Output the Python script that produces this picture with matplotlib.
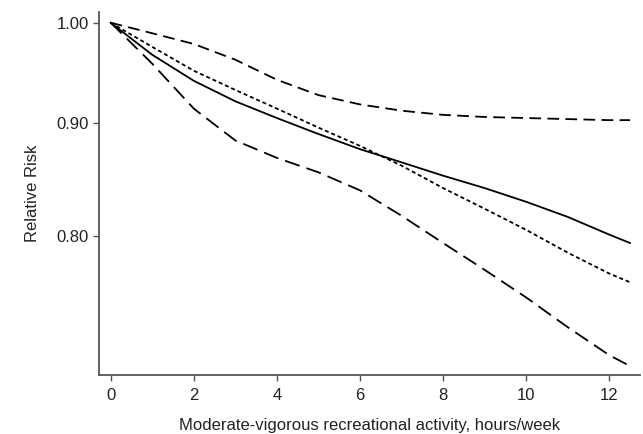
import matplotlib
matplotlib.use("Agg")
import matplotlib.pyplot as plt
from matplotlib.ticker import FixedLocator, NullLocator, FixedFormatter

plt.rcParams['font.family'] = ['Liberation Sans', 'DejaVu Sans']

hours = [0, 1, 2, 3, 4, 5, 6, 7, 8, 9, 10, 11, 12, 12.5]
rr_fit = [1.0, 0.967, 0.941, 0.921, 0.905, 0.890, 0.876, 0.864, 0.852, 0.841, 0.829, 0.816, 0.801, 0.794]
rr_linear = [1.0, 0.975, 0.951, 0.932, 0.914, 0.896, 0.879, 0.861, 0.841, 0.823, 0.805, 0.786, 0.769, 0.762]
rr_upper = [1.0, 0.989, 0.978, 0.962, 0.942, 0.927, 0.918, 0.912, 0.908, 0.906, 0.905, 0.904, 0.903, 0.903]
rr_lower = [1.0, 0.958, 0.914, 0.884, 0.868, 0.855, 0.839, 0.817, 0.794, 0.772, 0.750, 0.727, 0.706, 0.698]

fig = plt.figure(figsize=(6.43, 4.34), dpi=100)
ax = fig.add_axes([0.1544, 0.136, 0.9953 - 0.1544, 0.9724 - 0.136])

ax.plot(hours, rr_fit, color="black", lw=1.3)
ax.plot(hours, rr_linear, color="black", lw=1.3, dashes=(2.2, 1.6))
ax.plot(hours, rr_upper, color="black", lw=1.3, dashes=(6.5, 3.5))
ax.plot(hours, rr_lower, color="black", lw=1.3, dashes=(8.5, 4))

ax.set_yscale("log")
ax.set_xlim(-0.274, 12.74)
ax.set_ylim(0.6915, 1.0113)

ax.yaxis.set_major_locator(FixedLocator([0.8, 0.9, 1.0]))
ax.yaxis.set_major_formatter(FixedFormatter(["0.80", "0.90", "1.00"]))
ax.yaxis.set_minor_locator(NullLocator())
ax.set_xticks([0, 2, 4, 6, 8, 10, 12])

for s in ["top", "right"]:
    ax.spines[s].set_visible(False)
for s in ["left", "bottom"]:
    ax.spines[s].set_color("#555555")
    ax.spines[s].set_linewidth(1.3)
ax.tick_params(colors="#555555", labelcolor="#222222", length=4.5, width=1, labelsize=12)
ax.tick_params(axis="x", pad=5)
ax.tick_params(axis="y", pad=3)

ax.set_xlabel("Moderate-vigorous recreational activity, hours/week", fontsize=12, color="#222222", labelpad=11)
ax.set_ylabel("Relative Risk", fontsize=12, color="#222222", labelpad=12)

fig.savefig("out.png", dpi=100)
